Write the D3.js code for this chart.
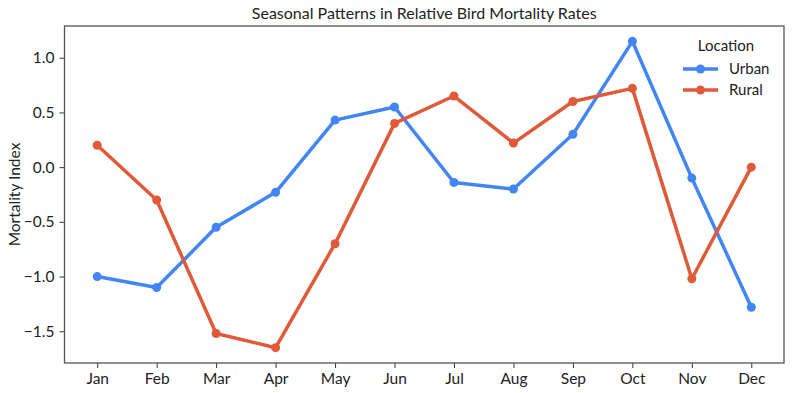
<!DOCTYPE html>
<html>
<head>
<meta charset="utf-8">
<script src="https://cdn.jsdelivr.net/npm/d3@7"></script>
<style>
  body { margin: 0; background: #fff; }
  svg text { font-family: Lato, "DejaVu Sans", sans-serif; fill: #222; }
</style>
</head>
<body>
<div id="chart"></div>
<script>
// data
const months = ['Jan', 'Feb', 'Mar', 'Apr', 'May', 'Jun', 'Jul', 'Aug', 'Sep', 'Oct', 'Nov', 'Dec'];
const urban = [-1.0, -1.1, -0.55, -0.23, 0.43, 0.55, -0.14, -0.2, 0.3, 1.15, -0.1, -1.28];
const rural = [0.2, -0.3, -1.52, -1.65, -0.7, 0.4, 0.65, 0.22, 0.6, 0.72, -1.02, 0.0];
const yTicks = [-1.5, -1.0, -0.5, 0.0, 0.5, 1.0];

const series = [
  { name: 'Urban', values: urban, color: '#4285f4' },
  { name: 'Rural', values: rural, color: '#e05a3a' }
];

const W = 793, H = 393;
const margin = { top: 26, right: 9, bottom: 30, left: 64.5 };
const width = W - margin.left - margin.right;
const height = H - margin.top - margin.bottom;

const svg = d3.select('#chart').append('svg')
  .attr('width', W)
  .attr('height', H);

// x is index based, with matplotlib-like 5% padding
const x = d3.scaleLinear().domain([-0.55, 11.55]).range([0, width]);
const y = d3.scaleLinear().domain([-1.79, 1.29]).range([height, 0]);

const g = svg.append('g').attr('transform', `translate(${margin.left},${margin.top})`);

// axes
const xAxis = g.append('g')
  .attr('transform', `translate(0,${height})`)
  .call(d3.axisBottom(x).tickValues(d3.range(12)).tickFormat(i => months[i]).tickSize(5).tickPadding(5));
const yAxis = g.append('g')
  .call(d3.axisLeft(y).tickValues(yTicks).tickFormat(d => d3.format('.1f')(d).replace('-', '\u2212')).tickSize(5).tickPadding(5));

[xAxis, yAxis].forEach(a => {
  a.select('.domain').remove();
  a.selectAll('line').attr('stroke', '#333');
  a.selectAll('text').style('font-size', '15.5px').attr('fill', '#222');
});

// frame
g.append('rect')
  .attr('width', width)
  .attr('height', height)
  .attr('fill', 'none')
  .attr('stroke', '#555')
  .attr('stroke-width', 1.3);

// lines + markers
const line = d3.line().x((d, i) => x(i)).y(d => y(d));
series.forEach(s => {
  g.append('path')
    .datum(s.values)
    .attr('fill', 'none')
    .attr('stroke', s.color)
    .attr('stroke-width', 3.5)
    .attr('stroke-linejoin', 'round')
    .attr('d', line);
  g.selectAll(null)
    .data(s.values)
    .enter()
    .append('circle')
    .attr('cx', (d, i) => x(i))
    .attr('cy', d => y(d))
    .attr('r', 4.5)
    .attr('fill', s.color);
});

// title
svg.append('text')
  .attr('x', margin.left + width / 2)
  .attr('y', 19)
  .attr('text-anchor', 'middle')
  .style('font-size', '16px')
  .text('Seasonal Patterns in Relative Bird Mortality Rates');

// y label
svg.append('text')
  .attr('transform', `translate(20,${margin.top + height / 2}) rotate(-90)`)
  .attr('text-anchor', 'middle')
  .style('font-size', '15.5px')
  .text('Mortality Index');

// legend
const leg = svg.append('g').attr('transform', 'translate(683,0)');
leg.append('text')
  .attr('x', 43)
  .attr('y', 51)
  .attr('text-anchor', 'middle')
  .style('font-size', '15px')
  .text('Location');
series.forEach((s, i) => {
  const yy = 69 + i * 21;
  leg.append('line')
    .attr('x1', 0).attr('x2', 35)
    .attr('y1', yy).attr('y2', yy)
    .attr('stroke', s.color)
    .attr('stroke-width', 3.5);
  leg.append('circle')
    .attr('cx', 17.5).attr('cy', yy).attr('r', 4.5)
    .attr('fill', s.color);
  leg.append('text')
    .attr('x', 46)
    .attr('y', yy + 5)
    .style('font-size', '15px')
    .text(s.name);
});
</script>
</body>
</html>
